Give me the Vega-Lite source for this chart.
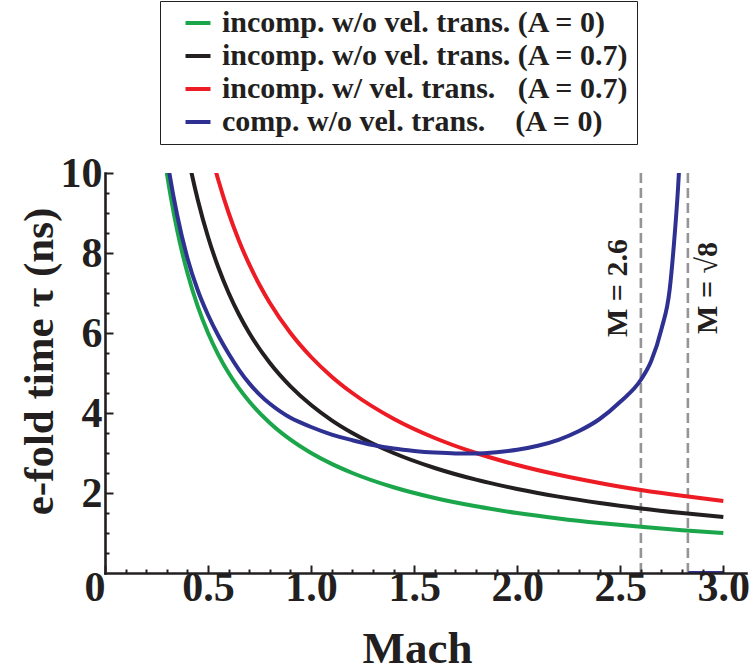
{
  "$schema": "https://vega.github.io/schema/vega-lite/v6.json",
  "width": 641,
  "height": 400,
  "autosize": {"type": "none"},
  "padding": {"left": 105, "top": 173, "right": 7, "bottom": 99},
  "background": "white",
  "config": {"view": {"stroke": null}, "font": "Liberation Serif"},
  "datasets": {
    "curves": [
      {"s": "g", "seg": "g", "M": 0.28, "tau": 10.71},
      {"s": "g", "seg": "g", "M": 0.30, "tau": 10.0},
      {"s": "g", "seg": "g", "M": 0.32, "tau": 9.375},
      {"s": "g", "seg": "g", "M": 0.35, "tau": 8.571},
      {"s": "g", "seg": "g", "M": 0.40, "tau": 7.5},
      {"s": "g", "seg": "g", "M": 0.45, "tau": 6.667},
      {"s": "g", "seg": "g", "M": 0.50, "tau": 6.0},
      {"s": "g", "seg": "g", "M": 0.55, "tau": 5.455},
      {"s": "g", "seg": "g", "M": 0.60, "tau": 5.0},
      {"s": "g", "seg": "g", "M": 0.70, "tau": 4.286},
      {"s": "g", "seg": "g", "M": 0.80, "tau": 3.75},
      {"s": "g", "seg": "g", "M": 0.90, "tau": 3.333},
      {"s": "g", "seg": "g", "M": 1.00, "tau": 3.0},
      {"s": "g", "seg": "g", "M": 1.10, "tau": 2.727},
      {"s": "g", "seg": "g", "M": 1.20, "tau": 2.5},
      {"s": "g", "seg": "g", "M": 1.40, "tau": 2.143},
      {"s": "g", "seg": "g", "M": 1.60, "tau": 1.875},
      {"s": "g", "seg": "g", "M": 1.80, "tau": 1.667},
      {"s": "g", "seg": "g", "M": 2.00, "tau": 1.5},
      {"s": "g", "seg": "g", "M": 2.20, "tau": 1.364},
      {"s": "g", "seg": "g", "M": 2.40, "tau": 1.25},
      {"s": "g", "seg": "g", "M": 2.60, "tau": 1.154},
      {"s": "g", "seg": "g", "M": 2.80, "tau": 1.071},
      {"s": "g", "seg": "g", "M": 3.00, "tau": 1.0},
      {"s": "k", "seg": "k", "M": 0.39, "tau": 10.77},
      {"s": "k", "seg": "k", "M": 0.42, "tau": 10.0},
      {"s": "k", "seg": "k", "M": 0.45, "tau": 9.333},
      {"s": "k", "seg": "k", "M": 0.50, "tau": 8.4},
      {"s": "k", "seg": "k", "M": 0.55, "tau": 7.636},
      {"s": "k", "seg": "k", "M": 0.60, "tau": 7.0},
      {"s": "k", "seg": "k", "M": 0.65, "tau": 6.462},
      {"s": "k", "seg": "k", "M": 0.70, "tau": 6.0},
      {"s": "k", "seg": "k", "M": 0.80, "tau": 5.25},
      {"s": "k", "seg": "k", "M": 0.90, "tau": 4.667},
      {"s": "k", "seg": "k", "M": 1.00, "tau": 4.2},
      {"s": "k", "seg": "k", "M": 1.10, "tau": 3.818},
      {"s": "k", "seg": "k", "M": 1.20, "tau": 3.5},
      {"s": "k", "seg": "k", "M": 1.40, "tau": 3.0},
      {"s": "k", "seg": "k", "M": 1.60, "tau": 2.625},
      {"s": "k", "seg": "k", "M": 1.80, "tau": 2.333},
      {"s": "k", "seg": "k", "M": 2.00, "tau": 2.1},
      {"s": "k", "seg": "k", "M": 2.20, "tau": 1.909},
      {"s": "k", "seg": "k", "M": 2.40, "tau": 1.75},
      {"s": "k", "seg": "k", "M": 2.60, "tau": 1.615},
      {"s": "k", "seg": "k", "M": 2.80, "tau": 1.5},
      {"s": "k", "seg": "k", "M": 3.00, "tau": 1.4},
      {"s": "r", "seg": "r", "M": 0.52, "tau": 10.38},
      {"s": "r", "seg": "r", "M": 0.55, "tau": 9.818},
      {"s": "r", "seg": "r", "M": 0.60, "tau": 9.0},
      {"s": "r", "seg": "r", "M": 0.65, "tau": 8.308},
      {"s": "r", "seg": "r", "M": 0.70, "tau": 7.714},
      {"s": "r", "seg": "r", "M": 0.75, "tau": 7.2},
      {"s": "r", "seg": "r", "M": 0.80, "tau": 6.75},
      {"s": "r", "seg": "r", "M": 0.90, "tau": 6.0},
      {"s": "r", "seg": "r", "M": 1.00, "tau": 5.4},
      {"s": "r", "seg": "r", "M": 1.10, "tau": 4.909},
      {"s": "r", "seg": "r", "M": 1.20, "tau": 4.5},
      {"s": "r", "seg": "r", "M": 1.40, "tau": 3.857},
      {"s": "r", "seg": "r", "M": 1.60, "tau": 3.375},
      {"s": "r", "seg": "r", "M": 1.80, "tau": 3.0},
      {"s": "r", "seg": "r", "M": 2.00, "tau": 2.7},
      {"s": "r", "seg": "r", "M": 2.20, "tau": 2.455},
      {"s": "r", "seg": "r", "M": 2.40, "tau": 2.25},
      {"s": "r", "seg": "r", "M": 2.60, "tau": 2.077},
      {"s": "r", "seg": "r", "M": 2.80, "tau": 1.929},
      {"s": "r", "seg": "r", "M": 3.00, "tau": 1.8},
      {"s": "b", "seg": "b1", "M": 0.30, "tau": 10.4},
      {"s": "b", "seg": "b1", "M": 0.31, "tau": 10.07},
      {"s": "b", "seg": "b1", "M": 0.35, "tau": 8.95},
      {"s": "b", "seg": "b1", "M": 0.40, "tau": 7.87},
      {"s": "b", "seg": "b1", "M": 0.45, "tau": 7.07},
      {"s": "b", "seg": "b1", "M": 0.50, "tau": 6.45},
      {"s": "b", "seg": "b1", "M": 0.55, "tau": 5.93},
      {"s": "b", "seg": "b1", "M": 0.60, "tau": 5.48},
      {"s": "b", "seg": "b1", "M": 0.65, "tau": 5.08},
      {"s": "b", "seg": "b1", "M": 0.70, "tau": 4.74},
      {"s": "b", "seg": "b1", "M": 0.75, "tau": 4.46},
      {"s": "b", "seg": "b1", "M": 0.80, "tau": 4.23},
      {"s": "b", "seg": "b1", "M": 0.85, "tau": 4.04},
      {"s": "b", "seg": "b1", "M": 0.90, "tau": 3.88},
      {"s": "b", "seg": "b1", "M": 0.95, "tau": 3.76},
      {"s": "b", "seg": "b1", "M": 1.00, "tau": 3.65},
      {"s": "b", "seg": "b1", "M": 1.10, "tau": 3.46},
      {"s": "b", "seg": "b1", "M": 1.20, "tau": 3.32},
      {"s": "b", "seg": "b1", "M": 1.30, "tau": 3.20},
      {"s": "b", "seg": "b1", "M": 1.40, "tau": 3.11},
      {"s": "b", "seg": "b1", "M": 1.50, "tau": 3.05},
      {"s": "b", "seg": "b1", "M": 1.60, "tau": 3.01},
      {"s": "b", "seg": "b1", "M": 1.70, "tau": 2.99},
      {"s": "b", "seg": "b1", "M": 1.80, "tau": 2.99},
      {"s": "b", "seg": "b1", "M": 1.90, "tau": 3.02},
      {"s": "b", "seg": "b1", "M": 2.00, "tau": 3.08},
      {"s": "b", "seg": "b1", "M": 2.10, "tau": 3.18},
      {"s": "b", "seg": "b1", "M": 2.20, "tau": 3.33},
      {"s": "b", "seg": "b1", "M": 2.30, "tau": 3.55},
      {"s": "b", "seg": "b1", "M": 2.40, "tau": 3.85},
      {"s": "b", "seg": "b1", "M": 2.50, "tau": 4.28},
      {"s": "b", "seg": "b1", "M": 2.60, "tau": 4.83},
      {"s": "b", "seg": "b1", "M": 2.65, "tau": 5.3},
      {"s": "b", "seg": "b1", "M": 2.70, "tau": 6.1},
      {"s": "b", "seg": "b1", "M": 2.74, "tau": 7.1},
      {"s": "b", "seg": "b1", "M": 2.76, "tau": 8.2},
      {"s": "b", "seg": "b1", "M": 2.78, "tau": 9.6},
      {"s": "b", "seg": "b1", "M": 2.79, "tau": 10.5},
      {"s": "b", "seg": "b2", "M": 2.83, "tau": 0},
      {"s": "b", "seg": "b2", "M": 3.00, "tau": 0}
    ],
    "vlines": [
      {"M": 2.6, "tau": 7.125, "label": "M = 2.6", "side": "left"},
      {"M": 2.828, "tau": 7.125, "label": "M = √8", "side": "right"}
    ]
  },
  "layer": [
    {
      "data": {"name": "vlines"},
      "mark": {"type": "rule", "color": "#959597", "strokeWidth": 2.6, "strokeDash": [10, 5]},
      "encoding": {
        "x": {"field": "M", "type": "quantitative", "scale": {"domain": [0, 3.11], "nice": false, "zero": false}, "axis": null}
      }
    },
    {
      "data": {"name": "curves"},
      "mark": {"type": "line", "strokeWidth": 4, "clip": true, "interpolate": "monotone"},
      "encoding": {
        "x": {
          "field": "M", "type": "quantitative",
          "scale": {"domain": [0, 3.11], "nice": false, "zero": false},
          "axis": {
            "orient": "bottom", "values": [0, 0.5, 1, 1.5, 2, 2.5, 3],
            "labelExpr": "datum.value == 0 ? '0' : format(datum.value, '.1f')",
            "labelAlign": {"condition": {"test": "datum.value == 0", "value": "right"}, "value": "center"},
            "grid": false, "zindex": 1,
            "domainColor": "#231f20", "domainWidth": 2.6, "domainCap": "square",
            "tickColor": "#231f20", "tickWidth": 2, "tickSize": -8,
            "labelFont": "Liberation Serif", "labelFontWeight": "bold", "labelFontSize": 42, "labelColor": "#231f20",
            "labelPadding": 2, "labelFlush": false, "labelOverlap": false,
            "title": "Mach", "titleFont": "Liberation Serif", "titleFontWeight": "bold", "titleFontSize": 45, "titleColor": "#231f20",
            "titleBaseline": "alphabetic", "titleX": 312, "titleY": 89
          }
        },
        "y": {
          "field": "tau", "type": "quantitative",
          "scale": {"domain": [0, 10], "nice": false, "zero": false},
          "axis": {
            "orient": "left", "values": [2, 4, 6, 8, 10],
            "grid": false, "zindex": 1,
            "domainColor": "#231f20", "domainWidth": 2.6, "domainCap": "square",
            "tickColor": "#231f20", "tickWidth": 2, "tickSize": -8,
            "labelFont": "Liberation Serif", "labelFontWeight": "bold", "labelFontSize": 42, "labelColor": "#231f20",
            "labelPadding": 11, "labelBaseline": "middle", "labelFlush": false, "labelOverlap": false,
            "title": "e-fold time τ (ns)", "titleFont": "Liberation Serif", "titleFontWeight": "bold", "titleFontSize": 43, "titleColor": "#231f20",
            "titleAngle": -90, "titleBaseline": "alphabetic", "titleAlign": "center", "titleX": -53, "titleY": 188
          }
        },
        "color": {
          "field": "s", "type": "nominal",
          "scale": {"domain": ["g", "k", "r", "b"], "range": ["#1ba64b", "#231f20", "#ed1c24", "#2e3192"]},
          "legend": {
            "orient": "none", "legendX": 55, "legendY": -172, "title": null, "direction": "vertical",
            "symbolType": "stroke", "symbolStrokeWidth": 4, "symbolSize": 625,
            "labelFont": "Liberation Serif", "labelFontWeight": "bold", "labelFontSize": 30, "labelColor": "#231f20",
            "labelLimit": 700, "labelOffset": 9,
            "strokeColor": "#231f20", "fillColor": "white", "padding": 7, "rowPadding": 3, "symbolOffset": 16,
            "labelExpr": "datum.value == 'g' ? 'incomp. w/o vel. trans. (A = 0)' : datum.value == 'k' ? 'incomp. w/o vel. trans. (A = 0.7)' : datum.value == 'r' ? 'incomp. w/ vel. trans.\u00a0\u00a0\u00a0(A = 0.7)' : 'comp. w/o vel. trans.\u00a0\u00a0\u00a0\u00a0(A = 0)'"
          }
        },
        "detail": {"field": "seg", "type": "nominal"}
      }
    },
    {
      "data": {"name": "vlines"},
      "transform": [{"filter": "datum.side == 'left'"}],
      "mark": {"type": "text", "angle": 270, "dy": -23, "align": "center", "baseline": "middle", "font": "Liberation Serif", "fontWeight": "bold", "fontSize": 30, "color": "#231f20"},
      "encoding": {
        "x": {
          "field": "M", "type": "quantitative", "scale": {"domain": [0, 3.11], "nice": false, "zero": false},
          "axis": {
            "orient": "bottom",
            "values": [0.1, 0.2, 0.3, 0.4, 0.6, 0.7, 0.8, 0.9, 1.1, 1.2, 1.3, 1.4, 1.6, 1.7, 1.8, 1.9, 2.1, 2.2, 2.3, 2.4, 2.6, 2.7, 2.8, 2.9],
            "domain": false, "labels": false, "title": null, "grid": false, "zindex": 1,
            "tickColor": "#231f20", "tickWidth": 2, "tickSize": -4
          }
        },
        "y": {
          "field": "tau", "type": "quantitative", "scale": {"domain": [0, 10], "nice": false, "zero": false},
          "axis": {
            "orient": "left",
            "values": [0.5, 1, 1.5, 2.5, 3, 3.5, 4.5, 5, 5.5, 6.5, 7, 7.5, 8.5, 9, 9.5],
            "domain": false, "labels": false, "title": null, "grid": false, "zindex": 1,
            "tickColor": "#231f20", "tickWidth": 2, "tickSize": -4
          }
        },
        "text": {"field": "label"}
      }
    },
    {
      "data": {"name": "vlines"},
      "transform": [{"filter": "datum.side == 'right'"}],
      "mark": {"type": "text", "angle": 270, "dy": 20, "align": "center", "baseline": "middle", "font": "Liberation Serif", "fontWeight": "bold", "fontSize": 30, "color": "#231f20"},
      "encoding": {
        "x": {"field": "M", "type": "quantitative", "scale": {"domain": [0, 3.11], "nice": false, "zero": false}, "axis": null},
        "y": {"field": "tau", "type": "quantitative", "scale": {"domain": [0, 10], "nice": false, "zero": false}, "axis": null},
        "text": {"field": "label"}
      }
    }
  ],
  "resolve": {"axis": {"x": "independent", "y": "independent"}}
}
